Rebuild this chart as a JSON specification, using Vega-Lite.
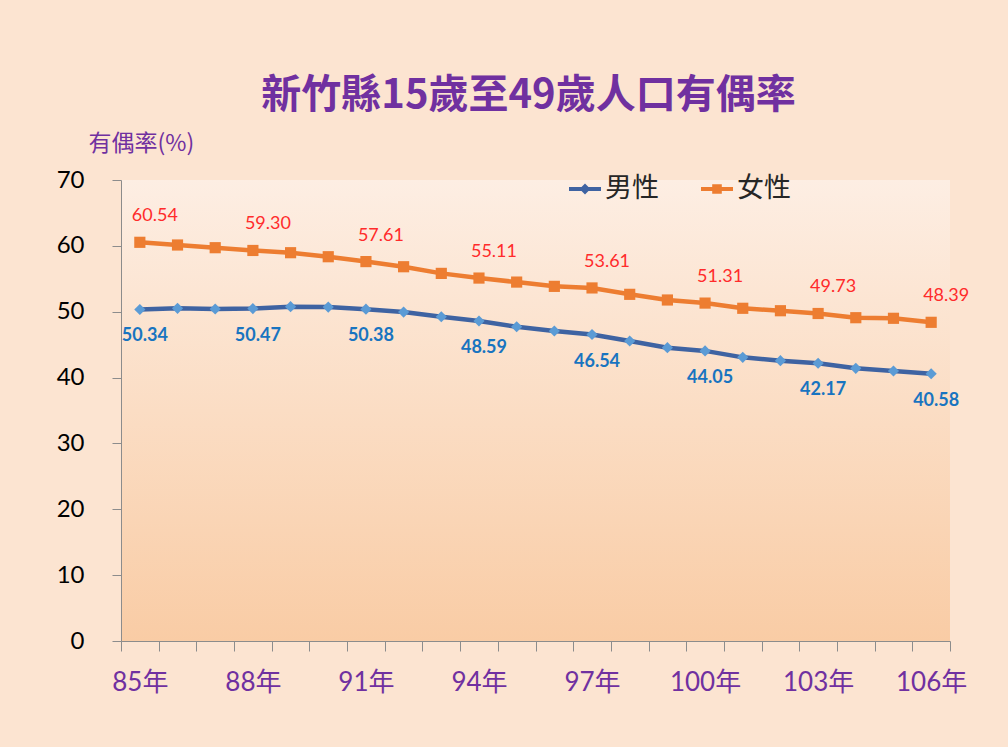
{
  "$schema": "https://vega.github.io/schema/vega-lite/v6.json",
  "width": 829,
  "height": 461,
  "autosize": {"type": "none"},
  "padding": {"left": 121, "top": 180, "right": 58, "bottom": 106},
  "background": "#FCE4D1",
  "title": {
    "text": "新竹縣15歲至49歲人口有偶率",
    "font": "Noto Sans CJK TC",
    "fontSize": 40,
    "fontWeight": "bold",
    "color": "#7030A0",
    "anchor": "middle",
    "dx": -7,
    "offset": 16
  },
  "config": {
    "view": {
      "stroke": null,
      "fill": {
        "gradient": "linear",
        "x1": 0, "y1": 0, "x2": 0, "y2": 1,
        "stops": [
          {"offset": 0, "color": "#FDEEE3"},
          {"offset": 1, "color": "#F9CCA5"}
        ]
      }
    }
  },
  "data": {
    "values": [
      {"year": 85, "sex": "男性", "rate": 50.34},
      {"year": 86, "sex": "男性", "rate": 50.51},
      {"year": 87, "sex": "男性", "rate": 50.41},
      {"year": 88, "sex": "男性", "rate": 50.47},
      {"year": 89, "sex": "男性", "rate": 50.76},
      {"year": 90, "sex": "男性", "rate": 50.71},
      {"year": 91, "sex": "男性", "rate": 50.38},
      {"year": 92, "sex": "男性", "rate": 49.95},
      {"year": 93, "sex": "男性", "rate": 49.24},
      {"year": 94, "sex": "男性", "rate": 48.59},
      {"year": 95, "sex": "男性", "rate": 47.72},
      {"year": 96, "sex": "男性", "rate": 47.07},
      {"year": 97, "sex": "男性", "rate": 46.54},
      {"year": 98, "sex": "男性", "rate": 45.55},
      {"year": 99, "sex": "男性", "rate": 44.54},
      {"year": 100, "sex": "男性", "rate": 44.05},
      {"year": 101, "sex": "男性", "rate": 43.07},
      {"year": 102, "sex": "男性", "rate": 42.57},
      {"year": 103, "sex": "男性", "rate": 42.17},
      {"year": 104, "sex": "男性", "rate": 41.40},
      {"year": 105, "sex": "男性", "rate": 41.00},
      {"year": 106, "sex": "男性", "rate": 40.58},
      {"year": 85, "sex": "女性", "rate": 60.54},
      {"year": 86, "sex": "女性", "rate": 60.13},
      {"year": 87, "sex": "女性", "rate": 59.72},
      {"year": 88, "sex": "女性", "rate": 59.30},
      {"year": 89, "sex": "女性", "rate": 58.96},
      {"year": 90, "sex": "女性", "rate": 58.35},
      {"year": 91, "sex": "女性", "rate": 57.61},
      {"year": 92, "sex": "女性", "rate": 56.83},
      {"year": 93, "sex": "女性", "rate": 55.82},
      {"year": 94, "sex": "女性", "rate": 55.11},
      {"year": 95, "sex": "女性", "rate": 54.50},
      {"year": 96, "sex": "女性", "rate": 53.85},
      {"year": 97, "sex": "女性", "rate": 53.61},
      {"year": 98, "sex": "女性", "rate": 52.64},
      {"year": 99, "sex": "女性", "rate": 51.78},
      {"year": 100, "sex": "女性", "rate": 51.31},
      {"year": 101, "sex": "女性", "rate": 50.52},
      {"year": 102, "sex": "女性", "rate": 50.15},
      {"year": 103, "sex": "女性", "rate": 49.73},
      {"year": 104, "sex": "女性", "rate": 49.09},
      {"year": 105, "sex": "女性", "rate": 49.00},
      {"year": 106, "sex": "女性", "rate": 48.39}
    ]
  },
  "encoding": {
    "x": {
      "field": "year",
      "type": "ordinal",
      "bandPosition": 0.5,
      "scale": {"type": "band", "paddingInner": 0, "paddingOuter": 0},
      "axis": {
        "title": null,
        "tickBand": "extent",
        "labelExpr": "(datum.value - 85) % 3 == 0 ? datum.value + '年' : ''",
        "labelAngle": 0,
        "labelFont": "Lato, Noto Sans CJK TC",
        "labelFontSize": 26,
        "labelColor": "#7030A0",
        "labelPadding": 18,
        "labelOverlap": false,
        "tickSize": 10,
        "domainColor": "#8C8C8C",
        "tickColor": "#8C8C8C"
      }
    },
    "y": {
      "field": "rate",
      "type": "quantitative",
      "scale": {"domain": [0, 70], "nice": false, "zero": true},
      "axis": {
        "title": "有偶率(%)",
        "titleAngle": 0,
        "titleAlign": "left",
        "titleBaseline": "middle",
        "titleX": -33,
        "titleY": -37,
        "titleFont": "Noto Sans CJK TC",
        "titleFontSize": 23,
        "titleFontWeight": "normal",
        "titleColor": "#7030A0",
        "values": [0, 10, 20, 30, 40, 50, 60, 70],
        "grid": false,
        "domainColor": "#8C8C8C",
        "tickColor": "#8C8C8C",
        "tickSize": 9,
        "labelFont": "Lato",
        "labelFontSize": 24,
        "labelColor": "#000000",
        "labelPadding": 28
      }
    }
  },
  "layer": [
    {
      "mark": {"type": "line", "strokeWidth": 4.5},
      "encoding": {
        "color": {
          "field": "sex",
          "type": "nominal",
          "scale": {"domain": ["男性", "女性"], "range": ["#3E63A2", "#ED7D31"]},
          "legend": {
            "title": null,
            "orient": "none",
            "legendX": 448,
            "legendY": -7,
            "direction": "horizontal",
            "symbolSize": 1024,
            "symbolType": "M-1,-0.13L1,-0.13L1,0.13L-1,0.13Z",
            "labelFont": "Noto Sans CJK TC",
            "labelFontSize": 27,
            "labelColor": "#262626",
            "labelOffset": 4,
            "columnPadding": 42,
            "encode": {
              "symbols": {
                "update": {
                  "shape": {"signal": "datum.value == '男性' ? 'M-1,-0.13L1,-0.13L1,0.13L-1,0.13Z M0,-0.34L0.34,0L0,0.34L-0.34,0Z' : 'M-1,-0.13L1,-0.13L1,0.13L-1,0.13Z M-0.3,-0.3L0.3,-0.3L0.3,0.3L-0.3,0.3Z'"},
                  "fill": {"scale": "color", "field": "value"},
                  "strokeWidth": {"value": 0}
                }
              }
            }
          }
        }
      }
    },
    {
      "transform": [{"filter": "datum.sex == '男性'"}],
      "mark": {"type": "point", "filled": true, "opacity": 1, "size": 125, "shape": "diamond", "color": "#5B9BD5"}
    },
    {
      "transform": [{"filter": "datum.sex == '女性'"}],
      "mark": {"type": "point", "filled": true, "opacity": 1, "size": 125, "shape": "square", "color": "#ED7D31"}
    },
    {
      "transform": [{"filter": "datum.sex == '女性' && (datum.year - 85) % 3 == 0"}],
      "mark": {"type": "text", "font": "Lato", "fontSize": 18, "color": "#FF2B2B", "dx": 15, "dy": -26},
      "encoding": {"text": {"field": "rate", "type": "quantitative", "format": ".2f"}}
    },
    {
      "transform": [{"filter": "datum.sex == '男性' && (datum.year - 85) % 3 == 0"}],
      "mark": {"type": "text", "font": "Lato", "fontSize": 18, "fontWeight": "bold", "color": "#1874C0", "dx": 5, "dy": 27},
      "encoding": {"text": {"field": "rate", "type": "quantitative", "format": ".2f"}}
    }
  ]
}
